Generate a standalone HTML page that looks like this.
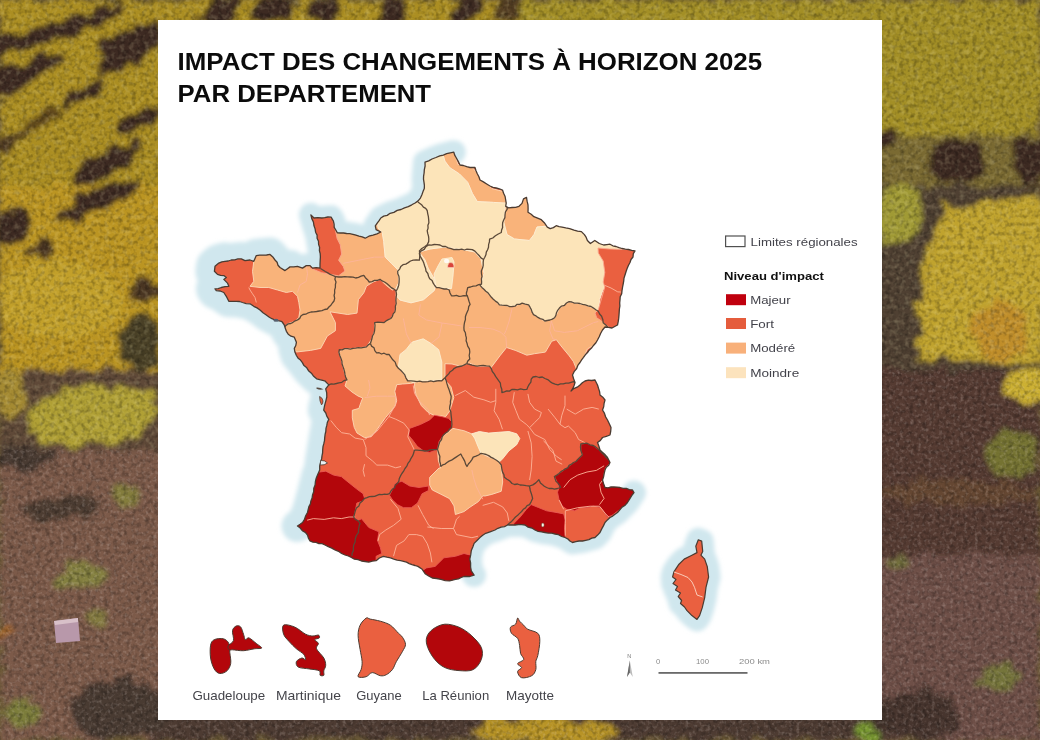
<!DOCTYPE html>
<html><head><meta charset="utf-8"><title>Impact des changements à horizon 2025</title>
<style>
html,body{margin:0;padding:0;}
body{width:1040px;height:740px;overflow:hidden;position:relative;background:#6b5a35;font-family:"Liberation Sans",sans-serif;}
.bg{position:absolute;left:0;top:0;}
.card{position:absolute;left:158px;top:20px;width:724px;height:700px;background:#fff;}
.map{position:absolute;left:0;top:0;}
h1{position:absolute;left:177px;top:44px;margin:0;font-size:24px;line-height:33px;font-weight:700;color:#111;letter-spacing:0.2px;white-space:nowrap;}
.lbox{position:absolute;left:725px;top:235.5px;width:18px;height:9.5px;border:1.2px solid #555;}
.sw{position:absolute;left:726px;width:20px;height:11px;}
.lt{position:absolute;font-size:11.5px;line-height:14px;color:#444;white-space:nowrap;}
.lh{position:absolute;font-size:11.5px;line-height:14px;color:#111;font-weight:700;white-space:nowrap;}
.ol span{position:absolute;top:688px;font-size:11.3px;line-height:13px;color:#444;white-space:nowrap;}
</style></head><body>
<svg class="bg" width="1040" height="740" viewBox="0 0 1040 740">
<defs>
<filter id="b3" x="-5%" y="-5%" width="110%" height="110%">
<feTurbulence type="fractalNoise" baseFrequency="0.06" numOctaves="3" seed="4" result="t"/>
<feDisplacementMap in="SourceGraphic" in2="t" scale="22" xChannelSelector="R" yChannelSelector="G" result="d"/>
<feGaussianBlur in="d" stdDeviation="2.5"/></filter>
<filter id="nz" x="0" y="0" width="100%" height="100%">
<feTurbulence type="fractalNoise" baseFrequency="0.22" numOctaves="2" seed="7"/>
<feColorMatrix type="matrix" values="0 0 0 0 0  0 0 0 0 0  0 0 0 0 0  0 0 0 -2.2 1.25"/>
</filter>
<clipPath id="cf"><rect x="0" y="0" width="1040" height="370"/><rect x="0" y="370" width="170" height="80"/></clipPath>
<clipPath id="cs"><rect x="0" y="450" width="170" height="290"/><rect x="860" y="370" width="180" height="370"/><rect x="150" y="700" width="740" height="40"/></clipPath>
<filter id="nz3" x="0" y="0" width="100%" height="100%">
<feTurbulence type="fractalNoise" baseFrequency="0.28" numOctaves="2" seed="21"/>
<feColorMatrix type="matrix" values="0 0 0 0 0.85  0 0 0 0 0.74  0 0 0 0 0.70  0 0 0 -2.6 1.35"/>
</filter>
<filter id="nz2" x="0" y="0" width="100%" height="100%">
<feTurbulence type="fractalNoise" baseFrequency="0.2" numOctaves="2" seed="11"/>
<feColorMatrix type="matrix" values="0 0 0 0 1  0 0 0 0 0.92  0 0 0 0 0.55  0 0 0 -2.2 1.2"/>
</filter>
</defs>
<g filter="url(#b3)">
<rect x="0" y="0" width="520" height="185" fill="#ab8e20" opacity="1"/><rect x="0" y="185" width="170" height="185" fill="#bb9524" opacity="1"/><rect x="0" y="370" width="170" height="80" fill="#5e4a38" opacity="1"/><rect x="0" y="450" width="170" height="290" fill="#7c5a4a" opacity="1"/><rect x="520" y="0" width="520" height="135" fill="#a38f26" opacity="1"/><rect x="860" y="135" width="180" height="50" fill="#7a6a30" opacity="1"/><rect x="860" y="185" width="180" height="185" fill="#4f3f33" opacity="1"/><rect x="860" y="370" width="180" height="185" fill="#553b31" opacity="1"/><rect x="860" y="555" width="180" height="185" fill="#6e5046" opacity="1"/><rect x="150" y="700" width="740" height="40" fill="#4e3a32" opacity="1"/>
<path d="M-5,40 L30,30 L60,22 L90,13 L120,2 L128,11 L95,26 L60,37 L30,46 L-5,56 Z" fill="#3d2a20"/><path d="M-5,70 L30,60 L62,50 L68,62 L36,80 L-5,98 Z" fill="#3d2a20"/><path d="M98,42 L140,24 L165,18 L165,40 L140,60 L108,76 L98,66 Z" fill="#3d2a20"/><ellipse cx="85" cy="92" rx="27" ry="8" transform="rotate(-28 85 92)" fill="#3d2a20" opacity="1"/><ellipse cx="140" cy="119" rx="27" ry="8" transform="rotate(-28 140 119)" fill="#3d2a20" opacity="1"/><ellipse cx="108" cy="163" rx="40" ry="13" transform="rotate(-28 108 163)" fill="#3d2a20" opacity="1"/><ellipse cx="10" cy="142" rx="20" ry="6" transform="rotate(-28 10 142)" fill="#3d2a20" opacity="0.8"/><ellipse cx="40" cy="120" rx="22" ry="5" transform="rotate(-28 40 120)" fill="#3d2a20" opacity="0.7"/><ellipse cx="97" cy="200" rx="46" ry="11" transform="rotate(-22 97 200)" fill="#3d2a20" opacity="1"/><ellipse cx="12" cy="228" rx="18" ry="17" transform="rotate(-25 12 228)" fill="#3d2a20" opacity="1"/><ellipse cx="42" cy="250" rx="13" ry="9" transform="rotate(0 42 250)" fill="#3d2a20" opacity="0.9"/><ellipse cx="145" cy="291" rx="18" ry="10" transform="rotate(-10 145 291)" fill="#3d2a20" opacity="0.9"/><ellipse cx="142" cy="342" rx="22" ry="28" transform="rotate(0 142 342)" fill="#4a4028" opacity="1"/><ellipse cx="60" cy="300" rx="60" ry="40" transform="rotate(0 60 300)" fill="#c4a22c" opacity="0.8"/><ellipse cx="93" cy="416" rx="66" ry="30" transform="rotate(-5 93 416)" fill="#b0a034" opacity="1"/><ellipse cx="12" cy="392" rx="18" ry="24" transform="rotate(0 12 392)" fill="#a48a30" opacity="1"/><ellipse cx="25" cy="458" rx="30" ry="12" transform="rotate(0 25 458)" fill="#4a3a30" opacity="1"/><ellipse cx="62" cy="508" rx="40" ry="12" transform="rotate(-5 62 508)" fill="#4e3c32" opacity="1"/><ellipse cx="118" cy="710" rx="50" ry="30" transform="rotate(0 118 710)" fill="#4a3a32" opacity="1"/><ellipse cx="80" cy="577" rx="24" ry="13" transform="rotate(0 80 577)" fill="#8a9a3a" opacity="0.6"/><ellipse cx="97" cy="618" rx="13" ry="9" transform="rotate(0 97 618)" fill="#8a9a38" opacity="0.5"/><ellipse cx="20" cy="713" rx="20" ry="14" transform="rotate(0 20 713)" fill="#7a9a30" opacity="0.55"/><ellipse cx="127" cy="496" rx="13" ry="12" transform="rotate(0 127 496)" fill="#8a9a35" opacity="0.55"/><ellipse cx="6" cy="633" rx="8" ry="7" transform="rotate(0 6 633)" fill="#b06a20" opacity="0.8"/><ellipse cx="958" cy="162" rx="28" ry="22" transform="rotate(0 958 162)" fill="#3d2a20" opacity="1"/><ellipse cx="1030" cy="162" rx="20" ry="22" transform="rotate(0 1030 162)" fill="#3d2a20" opacity="1"/><ellipse cx="887" cy="140" rx="10" ry="10" transform="rotate(0 887 140)" fill="#3d2a20" opacity="1"/><ellipse cx="899" cy="215" rx="22" ry="32" transform="rotate(0 899 215)" fill="#a09a35" opacity="1"/><path d="M942,205 L1045,195 L1045,362 L918,362 L918,300 Z" fill="#c0a32e"/><ellipse cx="1000" cy="330" rx="30" ry="30" transform="rotate(0 1000 330)" fill="#c07a2a" opacity="0.5"/><ellipse cx="1028" cy="385" rx="22" ry="16" transform="rotate(0 1028 385)" fill="#ccb032" opacity="1"/><ellipse cx="1012" cy="455" rx="26" ry="24" transform="rotate(0 1012 455)" fill="#8a9a30" opacity="0.6"/><ellipse cx="960" cy="492" rx="80" ry="12" transform="rotate(0 960 492)" fill="#7a5638" opacity="0.45"/><ellipse cx="997" cy="678" rx="20" ry="13" transform="rotate(0 997 678)" fill="#7a9a30" opacity="0.5"/><ellipse cx="900" cy="562" rx="15" ry="7" transform="rotate(0 900 562)" fill="#7a9a30" opacity="0.45"/><ellipse cx="920" cy="715" rx="45" ry="25" transform="rotate(0 920 715)" fill="#3c2e28" opacity="0.8"/><path d="M195,22 L215,-2 L245,-2 L232,22 Z" fill="#3d2a20"/><path d="M250,22 L262,-2 L292,-2 L283,22 Z" fill="#3d2a20"/><path d="M306,22 L316,-2 L340,-2 L333,22 Z" fill="#3d2a20"/><path d="M374,22 L384,-2 L410,-2 L404,22 Z" fill="#3d2a20"/><path d="M448,22 L456,-2 L480,-2 L476,22 Z" fill="#3d2a20"/><path d="M496,22 L502,-2 L522,-2 L520,22 Z" fill="#3d2a20" opacity="0.8"/><ellipse cx="545" cy="732" rx="75" ry="14" transform="rotate(0 545 732)" fill="#b89428" opacity="1"/><ellipse cx="867" cy="732" rx="14" ry="10" transform="rotate(0 867 732)" fill="#7a9a30" opacity="1"/>
</g>
<rect x="0" y="0" width="1040" height="740" filter="url(#nz)" opacity="0.3"/>
<rect x="0" y="0" width="1040" height="740" filter="url(#nz2)" opacity="0.22" clip-path="url(#cf)"/>
<rect x="0" y="0" width="1040" height="740" filter="url(#nz3)" opacity="0.22" clip-path="url(#cs)"/>
<path d="M54,621 L78,618 L80,641 L56,643 Z" fill="#b898aa"/>
<path d="M54,621 L78,618 L78,622 L55,625 Z" fill="#d8c0c8"/>
</svg>
<div class="card"></div>

<svg class="map" width="1040" height="740" viewBox="0 0 1040 740">
<defs>
<clipPath id="fr"><path d="M215.0,266.3 L218.8,263.1 L221.8,261.8 L225.0,261.3 L228.2,261.0 L231.3,260.0 L234.7,259.9 L237.9,258.9 L241.3,258.8 L245.0,260.6 L250.0,260.0 L253.8,261.3 L255.0,258.4 L256.3,255.6 L259.7,255.2 L263.2,255.2 L266.6,255.0 L270.0,254.4 L272.8,256.9 L275.0,260.0 L277.1,262.2 L278.0,265.2 L280.0,267.5 L285.0,270.6 L287.5,268.7 L290.0,266.9 L293.8,266.9 L297.5,266.3 L302.5,268.1 L306.3,265.6 L310.0,265.6 L312.5,268.1 L316.2,267.6 L320.0,268.1 L320.0,264.0 L320.2,260.0 L320.4,256.9 L320.2,253.7 L319.4,250.7 L319.6,247.4 L318.6,244.4 L318.5,241.2 L317.1,238.3 L317.1,235.1 L315.6,232.2 L315.1,228.9 L314.0,225.8 L313.4,222.0 L311.8,218.6 L310.9,214.9 L314.0,218.0 L317.9,217.7 L321.7,218.0 L324.8,217.6 L327.9,217.0 L331.1,217.2 L333.4,221.1 L334.1,224.2 L334.2,227.3 L335.8,230.0 L337.3,232.8 L340.4,233.0 L343.5,233.0 L346.6,233.5 L349.8,233.7 L352.9,234.3 L355.9,235.1 L359.0,236.1 L362.2,236.9 L365.2,238.2 L368.9,236.2 L373.0,235.1 L377.0,233.9 L380.8,232.0 L376.1,229.7 L375.3,225.8 L377.2,223.2 L379.1,220.7 L380.8,218.0 L383.7,216.1 L387.2,215.4 L390.1,213.3 L393.9,212.4 L397.2,210.4 L401.0,209.5 L404.5,207.8 L408.3,206.6 L411.8,204.8 L415.1,203.0 L418.1,200.9 L420.4,198.1 L421.9,194.7 L423.0,191.6 L424.3,188.5 L424.4,185.4 L424.0,182.3 L423.5,179.2 L423.6,176.1 L424.1,173.0 L424.3,169.9 L425.1,166.0 L425.0,162.1 L428.7,160.9 L432.0,159.0 L435.9,157.5 L439.8,155.9 L443.3,155.1 L446.7,153.6 L450.2,152.9 L453.8,152.2 L454.7,155.1 L456.2,157.8 L458.2,161.4 L460.0,165.0 L463.4,165.5 L466.7,166.7 L470.0,167.5 L475.0,167.5 L476.0,170.7 L477.3,173.8 L478.9,176.8 L480.0,180.0 L483.4,181.9 L486.7,184.0 L490.0,186.0 L493.0,187.3 L496.2,188.0 L499.4,188.9 L502.5,190.0 L503.6,193.3 L505.1,196.5 L505.7,200.0 L506.2,203.2 L505.7,206.3 L508.6,207.8 L512.1,207.5 L515.6,207.3 L519.0,206.3 L522.0,203.4 L523.5,198.9 L526.5,197.4 L527.1,201.2 L528.0,204.9 L528.1,208.6 L528.0,212.3 L531.2,214.2 L533.9,216.7 L537.6,218.2 L541.3,219.7 L544.3,222.7 L547.3,227.1 L550.2,228.6 L553.4,227.6 L556.2,225.7 L559.1,226.7 L562.1,227.1 L565.8,227.9 L569.6,228.6 L574.0,230.1 L577.6,231.2 L581.4,231.6 L584.4,234.6 L586.2,237.4 L587.4,240.5 L590.4,243.5 L594.8,240.5 L599.3,243.5 L603.7,245.0 L606.9,244.6 L610.0,244.2 L612.8,245.8 L616.0,246.5 L619.0,247.6 L622.0,248.5 L625.3,249.1 L628.5,249.5 L631.7,250.4 L635.0,251.0 L633.3,253.7 L633.0,257.0 L631.0,259.5 L630.0,262.5 L628.4,265.5 L627.1,268.6 L626.0,271.8 L625.0,275.0 L624.0,278.1 L623.7,281.2 L623.1,284.4 L622.5,287.5 L622.0,290.6 L621.7,293.8 L620.2,296.8 L620.0,300.0 L619.7,303.0 L619.9,306.0 L619.4,309.0 L619.2,312.0 L619.0,315.0 L618.7,318.4 L618.2,321.7 L617.5,325.0 L614.7,326.5 L612.0,328.0 L608.5,327.4 L605.0,327.0 L602.5,330.0 L600.7,333.3 L599.2,336.7 L597.5,340.0 L595.9,342.8 L593.7,345.2 L591.8,347.7 L589.4,349.9 L587.5,352.5 L585.3,354.8 L583.5,357.3 L581.6,359.8 L580.0,362.5 L577.8,365.4 L576.5,368.9 L574.1,371.7 L572.5,375.0 L573.6,378.8 L575.0,382.5 L574.1,385.5 L572.8,388.4 L571.0,391.0 L573.7,388.6 L577.2,387.2 L580.0,385.0 L582.3,382.8 L585.0,381.0 L588.3,380.2 L591.7,380.5 L595.0,380.0 L597.5,385.0 L598.5,388.3 L599.6,391.6 L600.0,395.0 L602.8,397.2 L605.0,400.0 L604.1,403.3 L603.7,406.8 L602.5,410.0 L604.4,413.2 L605.6,416.8 L607.5,420.0 L609.3,423.7 L611.0,427.5 L610.7,431.3 L610.0,435.0 L606.3,436.3 L602.5,437.5 L600.4,440.4 L597.5,442.5 L598.9,446.2 L600.0,450.0 L602.6,452.4 L605.2,454.8 L607.5,457.5 L610.0,462.5 L608.7,465.2 L606.3,467.3 L605.0,470.0 L604.2,473.3 L603.6,476.7 L602.5,480.0 L603.6,483.8 L605.0,487.5 L608.0,487.8 L611.0,487.0 L614.0,487.0 L617.0,487.1 L620.0,487.5 L623.1,488.4 L626.3,488.4 L629.3,489.6 L632.5,490.0 L634.0,492.5 L631.7,495.7 L629.6,499.1 L627.5,502.5 L625.2,505.2 L622.1,507.1 L619.8,509.8 L617.5,512.5 L615.0,514.2 L612.7,516.1 L610.0,517.5 L607.4,519.9 L605.0,522.5 L603.4,525.9 L601.6,529.1 L600.0,532.5 L597.6,535.1 L595.0,537.5 L591.8,538.2 L588.9,539.7 L585.7,540.3 L582.5,541.0 L579.1,541.0 L575.8,541.6 L572.5,542.5 L569.9,541.0 L567.7,538.8 L565.0,537.5 L561.6,536.5 L558.5,534.7 L555.0,534.0 L551.7,533.2 L548.3,533.1 L545.0,532.5 L541.6,531.9 L538.2,531.4 L535.0,530.0 L531.9,528.0 L528.1,527.1 L525.0,525.0 L521.7,524.6 L518.3,524.5 L515.0,525.0 L511.2,524.9 L507.5,525.0 L504.5,526.6 L501.1,527.1 L497.9,528.3 L495.0,530.0 L490.0,531.8 L485.7,533.3 L482.7,535.3 L479.9,537.6 L477.0,540.5 L474.1,543.4 L472.8,547.0 L471.3,550.6 L470.7,554.9 L469.8,559.2 L470.6,563.0 L470.6,567.0 L471.3,570.8 L474.1,575.1 L469.8,576.5 L464.0,576.5 L461.2,577.5 L458.4,578.8 L455.4,579.4 L449.6,580.9 L445.2,580.6 L441.0,579.4 L436.7,578.5 L432.3,578.0 L428.6,576.0 L425.1,573.7 L422.2,569.3 L417.9,566.4 L415.0,565.5 L412.0,564.7 L409.2,563.6 L406.5,562.2 L403.6,561.3 L400.6,560.7 L397.1,560.2 L393.8,559.1 L390.5,557.8 L386.9,557.2 L383.3,556.3 L379.4,558.0 L376.1,560.7 L372.4,561.1 L368.8,562.1 L365.2,561.5 L361.5,561.0 L358.0,559.7 L354.4,559.2 L351.4,557.5 L348.3,556.0 L345.0,555.0 L341.6,553.5 L338.5,551.3 L335.0,550.0 L331.8,548.1 L328.3,546.7 L325.0,545.0 L322.1,543.7 L318.9,543.7 L316.1,542.4 L312.9,542.2 L310.0,541.0 L308.4,538.1 L307.5,535.0 L305.3,532.4 L302.3,530.7 L300.2,528.0 L297.5,526.0 L300.1,524.3 L302.5,522.5 L304.5,519.3 L305.7,515.8 L307.5,512.5 L308.2,509.5 L308.9,506.6 L310.4,503.9 L310.9,500.9 L312.1,498.1 L312.5,495.0 L313.7,491.8 L313.8,488.2 L315.1,485.0 L315.4,481.6 L316.2,478.2 L317.5,475.0 L319.7,470.0 L319.7,465.9 L320.7,461.9 L321.6,458.9 L322.0,455.9 L322.6,452.8 L322.7,449.7 L323.0,446.6 L323.8,443.7 L324.5,440.7 L324.7,437.6 L325.1,434.5 L325.8,431.5 L326.0,428.4 L326.8,425.4 L327.4,422.2 L328.8,419.3 L326.9,416.4 L325.8,413.0 L323.7,410.2 L324.7,405.1 L325.8,401.1 L326.8,397.0 L326.7,392.9 L325.7,388.9 L328.8,384.9 L324.7,380.8 L320.6,379.8 L316.6,378.8 L313.7,376.3 L311.4,373.2 L308.5,370.7 L306.8,367.8 L304.0,365.6 L302.4,362.6 L300.5,360.1 L298.1,358.2 L296.4,355.5 L294.9,352.1 L294.3,348.4 L295.8,345.5 L296.4,342.3 L294.3,337.2 L291.0,336.2 L288.2,334.2 L286.4,331.3 L285.2,328.1 L284.2,324.8 L282.2,322.0 L281.3,321.3 L278.1,320.7 L275.0,320.0 L271.9,318.7 L269.0,317.0 L266.3,315.0 L263.0,312.7 L260.0,310.0 L257.0,307.9 L253.8,306.3 L250.0,303.8 L246.2,303.6 L242.5,302.5 L239.5,301.5 L236.3,301.3 L232.6,301.4 L228.8,301.3 L226.3,296.3 L223.8,292.5 L220.2,291.0 L216.3,290.6 L215.0,288.8 L218.2,288.6 L221.3,287.5 L225.0,286.7 L228.8,286.3 L227.5,283.1 L223.8,279.4 L226.3,277.5 L223.8,275.6 L220.6,275.3 L217.5,274.4 L214.4,271.3 Z"/></clipPath>
<filter id="bl" x="-10%" y="-10%" width="120%" height="120%"><feGaussianBlur stdDeviation="2"/></filter>
</defs>
<g filter="url(#bl)" fill="none" stroke="#d0e7ee" stroke-width="24" stroke-linejoin="round" stroke-linecap="round">
<path d="M215.0,266.3 L218.8,263.1 L225.0,261.3 L231.3,260.0 L241.3,258.8 L245.0,260.6 L250.0,260.0 L253.8,261.3 L256.3,255.6 L270.0,254.4 L275.0,260.0 L280.0,267.5 L285.0,270.6 L290.0,266.9 L297.5,266.3 L302.5,268.1 L306.3,265.6 L310.0,265.6 L312.5,268.1 L320.0,268.1 L320.2,260.0 L320.2,253.7 L318.6,244.4 L317.1,235.1 L314.0,225.8 L310.9,214.9 L314.0,218.0 L321.7,218.0 L331.1,217.2 L333.4,221.1 L334.2,227.3 L337.3,232.8 L346.6,233.5 L355.9,235.1 L365.2,238.2 L373.0,235.1 L380.8,232.0 L376.1,229.7 L375.3,225.8 L380.8,218.0 L390.1,213.3 L401.0,209.5 L411.8,204.8 L418.1,200.9 L421.9,194.7 L424.3,188.5 L423.5,179.2 L424.3,169.9 L425.0,162.1 L432.0,159.0 L439.8,155.9 L453.8,152.2"/>
<path d="M215.0,266.3 L218.8,263.1 L225.0,261.3 L231.3,260.0 L241.3,258.8 L245.0,260.6 L250.0,260.0 L253.8,261.3 L256.3,255.6 L270.0,254.4 L275.0,260.0 L280.0,267.5 L285.0,270.6 L290.0,266.9" stroke-width="34"/>
<path d="M226.3,296.3 L223.8,292.5 L216.3,290.6 L215.0,288.8 L221.3,287.5 L228.8,286.3 L227.5,283.1 L223.8,279.4 L226.3,277.5 L223.8,275.6 L217.5,274.4 L214.4,271.3 L215.0,266.3 L218.8,263.1 L225.0,261.3" stroke-width="38"/>
<path d="M297.5,526.0 L302.5,522.5 L307.5,512.5 L312.5,495.0 L317.5,475.0 L319.7,470.0 L320.7,461.9 L322.7,449.7 L324.7,437.6 L326.8,425.4 L328.8,419.3 L323.7,410.2 L324.7,405.1 L326.8,397.0 L325.7,388.9 L328.8,384.9 L324.7,380.8 L316.6,378.8 L308.5,370.7 L302.4,362.6 L296.4,355.5 L294.3,348.4 L296.4,342.3 L294.3,337.2 L288.2,334.2 L285.2,328.1 L282.2,322.0 L281.3,321.3 L275.0,320.0 L266.3,315.0 L260.0,310.0 L253.8,306.3 L250.0,303.8 L242.5,302.5 L236.3,301.3 L228.8,301.3 L226.3,296.3 L223.8,292.5 L216.3,290.6 L215.0,288.8 L221.3,287.5 L228.8,286.3 L227.5,283.1 L223.8,279.4 L226.3,277.5 L223.8,275.6 L217.5,274.4 L214.4,271.3 L215.0,266.3" stroke-width="32"/>
<path d="M634.0,492.5 L627.5,502.5 L617.5,512.5 L610.0,517.5 L605.0,522.5 L600.0,532.5 L595.0,537.5 L582.5,541.0 L572.5,542.5 L565.0,537.5 L555.0,534.0 L545.0,532.5 L535.0,530.0 L525.0,525.0 L515.0,525.0 L507.5,525.0 L495.0,530.0 L490.0,531.8 L485.7,533.3 L479.9,537.6 L474.1,543.4 L471.3,550.6 L469.8,559.2 L471.3,570.8 L474.1,575.1"/>
<path d="M698.3,539.8 L701.7,541.1 L702.7,551.4 L700.9,555.2 L704.7,559.1 L707.3,566.8 L708.6,577.0 L706.0,587.3 L704.7,597.6 L702.2,607.9 L699.6,615.6 L697.0,619.4 L691.9,615.6 L686.8,610.4 L684.5,607.0 L680.5,603.5 L681.6,600.5 L678.2,596.5 L680.5,593.0 L675.5,590.0 L677.5,586.5 L673.0,583.5 L676.0,579.5 L672.6,577.0 L673.9,571.9 L679.0,564.2 L684.2,559.1 L691.9,555.2 L697.0,552.6 L695.8,546.2 Z" fill="#d2e9ef"/>
</g>
<g clip-path="url(#fr)">
<path d="M215.0,266.3 L218.8,263.1 L221.8,261.8 L225.0,261.3 L228.2,261.0 L231.3,260.0 L234.7,259.9 L237.9,258.9 L241.3,258.8 L245.0,260.6 L250.0,260.0 L253.8,261.3 L255.0,258.4 L256.3,255.6 L259.7,255.2 L263.2,255.2 L266.6,255.0 L270.0,254.4 L272.8,256.9 L275.0,260.0 L277.1,262.2 L278.0,265.2 L280.0,267.5 L285.0,270.6 L287.5,268.7 L290.0,266.9 L293.8,266.9 L297.5,266.3 L302.5,268.1 L306.3,265.6 L310.0,265.6 L312.5,268.1 L316.2,267.6 L320.0,268.1 L320.0,264.0 L320.2,260.0 L320.4,256.9 L320.2,253.7 L319.4,250.7 L319.6,247.4 L318.6,244.4 L318.5,241.2 L317.1,238.3 L317.1,235.1 L315.6,232.2 L315.1,228.9 L314.0,225.8 L313.4,222.0 L311.8,218.6 L310.9,214.9 L314.0,218.0 L317.9,217.7 L321.7,218.0 L324.8,217.6 L327.9,217.0 L331.1,217.2 L333.4,221.1 L334.1,224.2 L334.2,227.3 L335.8,230.0 L337.3,232.8 L340.4,233.0 L343.5,233.0 L346.6,233.5 L349.8,233.7 L352.9,234.3 L355.9,235.1 L359.0,236.1 L362.2,236.9 L365.2,238.2 L368.9,236.2 L373.0,235.1 L377.0,233.9 L380.8,232.0 L376.1,229.7 L375.3,225.8 L377.2,223.2 L379.1,220.7 L380.8,218.0 L383.7,216.1 L387.2,215.4 L390.1,213.3 L393.9,212.4 L397.2,210.4 L401.0,209.5 L404.5,207.8 L408.3,206.6 L411.8,204.8 L415.1,203.0 L418.1,200.9 L420.4,198.1 L421.9,194.7 L423.0,191.6 L424.3,188.5 L424.4,185.4 L424.0,182.3 L423.5,179.2 L423.6,176.1 L424.1,173.0 L424.3,169.9 L425.1,166.0 L425.0,162.1 L428.7,160.9 L432.0,159.0 L435.9,157.5 L439.8,155.9 L443.3,155.1 L446.7,153.6 L450.2,152.9 L453.8,152.2 L454.7,155.1 L456.2,157.8 L458.2,161.4 L460.0,165.0 L463.4,165.5 L466.7,166.7 L470.0,167.5 L475.0,167.5 L476.0,170.7 L477.3,173.8 L478.9,176.8 L480.0,180.0 L483.4,181.9 L486.7,184.0 L490.0,186.0 L493.0,187.3 L496.2,188.0 L499.4,188.9 L502.5,190.0 L503.6,193.3 L505.1,196.5 L505.7,200.0 L506.2,203.2 L505.7,206.3 L508.6,207.8 L512.1,207.5 L515.6,207.3 L519.0,206.3 L522.0,203.4 L523.5,198.9 L526.5,197.4 L527.1,201.2 L528.0,204.9 L528.1,208.6 L528.0,212.3 L531.2,214.2 L533.9,216.7 L537.6,218.2 L541.3,219.7 L544.3,222.7 L547.3,227.1 L550.2,228.6 L553.4,227.6 L556.2,225.7 L559.1,226.7 L562.1,227.1 L565.8,227.9 L569.6,228.6 L574.0,230.1 L577.6,231.2 L581.4,231.6 L584.4,234.6 L586.2,237.4 L587.4,240.5 L590.4,243.5 L594.8,240.5 L599.3,243.5 L603.7,245.0 L606.9,244.6 L610.0,244.2 L612.8,245.8 L616.0,246.5 L619.0,247.6 L622.0,248.5 L625.3,249.1 L628.5,249.5 L631.7,250.4 L635.0,251.0 L633.3,253.7 L633.0,257.0 L631.0,259.5 L630.0,262.5 L628.4,265.5 L627.1,268.6 L626.0,271.8 L625.0,275.0 L624.0,278.1 L623.7,281.2 L623.1,284.4 L622.5,287.5 L622.0,290.6 L621.7,293.8 L620.2,296.8 L620.0,300.0 L619.7,303.0 L619.9,306.0 L619.4,309.0 L619.2,312.0 L619.0,315.0 L618.7,318.4 L618.2,321.7 L617.5,325.0 L614.7,326.5 L612.0,328.0 L608.5,327.4 L605.0,327.0 L602.5,330.0 L600.7,333.3 L599.2,336.7 L597.5,340.0 L595.9,342.8 L593.7,345.2 L591.8,347.7 L589.4,349.9 L587.5,352.5 L585.3,354.8 L583.5,357.3 L581.6,359.8 L580.0,362.5 L577.8,365.4 L576.5,368.9 L574.1,371.7 L572.5,375.0 L573.6,378.8 L575.0,382.5 L574.1,385.5 L572.8,388.4 L571.0,391.0 L573.7,388.6 L577.2,387.2 L580.0,385.0 L582.3,382.8 L585.0,381.0 L588.3,380.2 L591.7,380.5 L595.0,380.0 L597.5,385.0 L598.5,388.3 L599.6,391.6 L600.0,395.0 L602.8,397.2 L605.0,400.0 L604.1,403.3 L603.7,406.8 L602.5,410.0 L604.4,413.2 L605.6,416.8 L607.5,420.0 L609.3,423.7 L611.0,427.5 L610.7,431.3 L610.0,435.0 L606.3,436.3 L602.5,437.5 L600.4,440.4 L597.5,442.5 L598.9,446.2 L600.0,450.0 L602.6,452.4 L605.2,454.8 L607.5,457.5 L610.0,462.5 L608.7,465.2 L606.3,467.3 L605.0,470.0 L604.2,473.3 L603.6,476.7 L602.5,480.0 L603.6,483.8 L605.0,487.5 L608.0,487.8 L611.0,487.0 L614.0,487.0 L617.0,487.1 L620.0,487.5 L623.1,488.4 L626.3,488.4 L629.3,489.6 L632.5,490.0 L634.0,492.5 L631.7,495.7 L629.6,499.1 L627.5,502.5 L625.2,505.2 L622.1,507.1 L619.8,509.8 L617.5,512.5 L615.0,514.2 L612.7,516.1 L610.0,517.5 L607.4,519.9 L605.0,522.5 L603.4,525.9 L601.6,529.1 L600.0,532.5 L597.6,535.1 L595.0,537.5 L591.8,538.2 L588.9,539.7 L585.7,540.3 L582.5,541.0 L579.1,541.0 L575.8,541.6 L572.5,542.5 L569.9,541.0 L567.7,538.8 L565.0,537.5 L561.6,536.5 L558.5,534.7 L555.0,534.0 L551.7,533.2 L548.3,533.1 L545.0,532.5 L541.6,531.9 L538.2,531.4 L535.0,530.0 L531.9,528.0 L528.1,527.1 L525.0,525.0 L521.7,524.6 L518.3,524.5 L515.0,525.0 L511.2,524.9 L507.5,525.0 L504.5,526.6 L501.1,527.1 L497.9,528.3 L495.0,530.0 L490.0,531.8 L485.7,533.3 L482.7,535.3 L479.9,537.6 L477.0,540.5 L474.1,543.4 L472.8,547.0 L471.3,550.6 L470.7,554.9 L469.8,559.2 L470.6,563.0 L470.6,567.0 L471.3,570.8 L474.1,575.1 L469.8,576.5 L464.0,576.5 L461.2,577.5 L458.4,578.8 L455.4,579.4 L449.6,580.9 L445.2,580.6 L441.0,579.4 L436.7,578.5 L432.3,578.0 L428.6,576.0 L425.1,573.7 L422.2,569.3 L417.9,566.4 L415.0,565.5 L412.0,564.7 L409.2,563.6 L406.5,562.2 L403.6,561.3 L400.6,560.7 L397.1,560.2 L393.8,559.1 L390.5,557.8 L386.9,557.2 L383.3,556.3 L379.4,558.0 L376.1,560.7 L372.4,561.1 L368.8,562.1 L365.2,561.5 L361.5,561.0 L358.0,559.7 L354.4,559.2 L351.4,557.5 L348.3,556.0 L345.0,555.0 L341.6,553.5 L338.5,551.3 L335.0,550.0 L331.8,548.1 L328.3,546.7 L325.0,545.0 L322.1,543.7 L318.9,543.7 L316.1,542.4 L312.9,542.2 L310.0,541.0 L308.4,538.1 L307.5,535.0 L305.3,532.4 L302.3,530.7 L300.2,528.0 L297.5,526.0 L300.1,524.3 L302.5,522.5 L304.5,519.3 L305.7,515.8 L307.5,512.5 L308.2,509.5 L308.9,506.6 L310.4,503.9 L310.9,500.9 L312.1,498.1 L312.5,495.0 L313.7,491.8 L313.8,488.2 L315.1,485.0 L315.4,481.6 L316.2,478.2 L317.5,475.0 L319.7,470.0 L319.7,465.9 L320.7,461.9 L321.6,458.9 L322.0,455.9 L322.6,452.8 L322.7,449.7 L323.0,446.6 L323.8,443.7 L324.5,440.7 L324.7,437.6 L325.1,434.5 L325.8,431.5 L326.0,428.4 L326.8,425.4 L327.4,422.2 L328.8,419.3 L326.9,416.4 L325.8,413.0 L323.7,410.2 L324.7,405.1 L325.8,401.1 L326.8,397.0 L326.7,392.9 L325.7,388.9 L328.8,384.9 L324.7,380.8 L320.6,379.8 L316.6,378.8 L313.7,376.3 L311.4,373.2 L308.5,370.7 L306.8,367.8 L304.0,365.6 L302.4,362.6 L300.5,360.1 L298.1,358.2 L296.4,355.5 L294.9,352.1 L294.3,348.4 L295.8,345.5 L296.4,342.3 L294.3,337.2 L291.0,336.2 L288.2,334.2 L286.4,331.3 L285.2,328.1 L284.2,324.8 L282.2,322.0 L281.3,321.3 L278.1,320.7 L275.0,320.0 L271.9,318.7 L269.0,317.0 L266.3,315.0 L263.0,312.7 L260.0,310.0 L257.0,307.9 L253.8,306.3 L250.0,303.8 L246.2,303.6 L242.5,302.5 L239.5,301.5 L236.3,301.3 L232.6,301.4 L228.8,301.3 L226.3,296.3 L223.8,292.5 L220.2,291.0 L216.3,290.6 L215.0,288.8 L218.2,288.6 L221.3,287.5 L225.0,286.7 L228.8,286.3 L227.5,283.1 L223.8,279.4 L226.3,277.5 L223.8,275.6 L220.6,275.3 L217.5,274.4 L214.4,271.3 Z" fill="#ea6040"/>
<path d="M253.8,240.0 L253.8,261.3 L252.5,271.3 L253.8,281.3 L250.0,286.3 L260.0,287.5 L268.8,287.5 L277.5,290.0 L286.3,292.5 L292.5,291.3 L297.5,296.3 L298.8,302.5 L300.0,310.0 L298.8,317.5 L295.0,321.3 L287.5,323.8 L280.0,330.0 L296.4,352.0 L310.5,350.4 L320.7,348.4 L327.3,336.1 L335.4,330.7 L335.4,322.6 L330.0,311.8 L347.6,314.5 L357.0,313.1 L358.4,299.6 L363.8,292.8 L366.5,286.1 L373.2,282.0 L380.0,279.3 L385.4,284.7 L392.2,290.1 L396.1,288.2 L399.2,282.0 L397.7,269.6 L391.5,263.4 L385.2,257.1 L383.7,241.6 L382.1,225.0 L340.0,225.0 Z" fill="#f9b37a" stroke="#fdd9b8" stroke-width="0.9" stroke-linejoin="round"/>
<path d="M441.6,150.0 L453.8,148.0 L457.8,164.3 L472.4,167.6 L483.8,180.5 L491.9,188.6 L504.9,191.9 L506.5,203.2 L493.5,202.4 L477.3,201.6 L472.4,193.5 L467.6,182.2 L459.5,174.0 L449.7,167.6 L444.9,161.1 Z" fill="#f9b37a" stroke="#fdd9b8" stroke-width="0.9" stroke-linejoin="round"/>
<path d="M505.0,207.5 L520.0,203.8 L525.0,196.0 L530.0,205.0 L548.0,226.0 L537.0,227.0 L534.0,234.6 L529.4,240.5 L514.6,239.0 L507.0,234.6 L503.8,222.5 Z" fill="#f9b37a" stroke="#fdd9b8" stroke-width="0.9" stroke-linejoin="round"/>
<path d="M419.0,252.0 L430.0,249.0 L445.0,247.0 L460.0,249.0 L475.0,252.0 L481.0,259.0 L484.0,273.3 L481.0,284.2 L480.0,285.4 L489.7,295.1 L499.4,304.8 L512.4,306.5 L522.1,303.2 L528.6,304.8 L533.5,314.6 L544.8,321.0 L554.6,317.8 L559.4,308.1 L569.1,301.6 L577.2,303.2 L585.3,304.8 L593.5,308.1 L598.3,311.3 L601.6,316.2 L603.2,322.7 L608.0,327.5 L605.0,330.0 L600.0,336.0 L595.1,344.4 L587.4,349.0 L582.7,359.9 L576.5,369.2 L573.4,361.5 L568.7,355.2 L561.0,345.9 L556.3,339.7 L551.7,341.3 L545.4,352.1 L534.6,353.7 L526.8,355.2 L515.9,350.6 L506.6,347.5 L500.4,355.2 L491.0,367.7 L489.5,366.1 L477.1,366.1 L469.3,363.0 L460.0,366.1 L452.0,364.0 L445.0,363.7 L445.0,380.0 L451.0,386.8 L453.8,397.6 L449.7,411.1 L445.7,416.5 L433.5,415.1 L428.1,412.4 L421.4,405.7 L416.0,394.9 L414.6,386.8 L414.6,382.7 L410.5,383.4 L402.4,384.0 L396.7,384.7 L394.8,391.3 L396.7,400.8 L394.8,406.5 L390.1,412.2 L385.4,417.8 L380.7,424.4 L375.9,431.1 L371.2,436.7 L364.6,437.7 L357.0,433.0 L354.2,427.3 L352.3,417.8 L352.3,410.3 L358.9,408.4 L360.8,402.7 L362.7,398.0 L358.0,396.0 L352.0,392.0 L345.0,386.0 L347.0,379.8 L345.0,374.7 L343.0,366.6 L341.0,358.5 L338.9,352.4 L342.2,349.6 L355.7,348.2 L366.5,346.9 L371.9,338.8 L374.6,330.7 L374.6,322.6 L377.3,322.6 L384.1,322.6 L390.8,318.5 L394.9,311.8 L396.2,303.6 L396.2,295.5 L400.0,300.0 L411.0,302.8 L423.5,299.7 L434.4,290.4 L436.0,282.0 L428.0,268.0 L425.0,260.0 Z" fill="#f9b37a" stroke="#fdd9b8" stroke-width="0.9" stroke-linejoin="round"/>
<path d="M437.5,449.4 L442.1,436.9 L448.3,432.3 L453.0,428.4 L463.9,430.7 L471.7,433.8 L476.3,440.0 L479.4,447.8 L481.0,453.3 L488.7,457.1 L498.1,460.2 L501.2,466.5 L502.7,482.0 L501.2,491.3 L491.8,494.4 L485.0,496.0 L482.8,495.8 L478.5,501.5 L469.8,507.3 L464.0,511.6 L455.4,514.5 L454.0,505.9 L449.6,498.7 L441.0,494.3 L432.3,490.0 L429.7,485.1 L429.7,477.3 L435.0,472.0 L439.0,468.0 L440.6,468.0 L438.3,460.2 Z" fill="#f9b37a" stroke="#fdd9b8" stroke-width="0.9" stroke-linejoin="round"/>
<path d="M376.0,200.0 L400.0,195.0 L418.0,190.0 L425.0,150.0 L441.6,150.0 L444.9,161.1 L449.7,167.6 L459.5,174.0 L467.6,182.2 L472.4,193.5 L477.3,201.6 L493.5,202.4 L506.5,203.2 L505.0,207.5 L503.8,222.5 L507.0,234.6 L514.6,239.0 L529.4,240.5 L534.0,234.6 L537.0,227.0 L548.0,226.0 L545.0,215.0 L600.0,230.0 L640.0,245.0 L602.9,290.0 L599.8,299.3 L598.3,311.3 L593.5,308.1 L585.3,304.8 L577.2,303.2 L569.1,301.6 L559.4,308.1 L554.6,317.8 L544.8,321.0 L533.5,314.6 L528.6,304.8 L522.1,303.2 L512.4,306.5 L499.4,304.8 L489.7,295.1 L480.0,285.4 L481.0,284.2 L484.0,273.3 L481.0,259.0 L475.0,252.0 L460.0,249.0 L445.0,247.0 L430.0,249.0 L419.0,252.0 L425.0,260.0 L428.0,268.0 L436.0,282.0 L434.4,290.4 L423.5,299.7 L411.0,302.8 L400.0,300.0 L396.2,295.5 L396.1,288.2 L399.2,282.0 L397.7,269.6 L391.5,263.4 L385.2,257.1 L383.7,241.6 L382.1,232.3 L378.0,228.0 Z" fill="#fce4b9" stroke="#fdeed4" stroke-width="0.9" stroke-linejoin="round"/>
<path d="M442.0,259.0 L452.0,257.5 L454.0,262.0 L453.0,276.0 L451.5,288.5 L445.0,288.5 L436.0,287.0 L434.0,274.0 L438.0,266.0 Z" fill="#fce4b9" stroke="#fdeed4" stroke-width="0.9" stroke-linejoin="round"/>
<path d="M412.3,342.0 L423.2,338.8 L431.0,343.5 L438.7,349.7 L441.8,362.0 L441.8,380.0 L426.3,380.8 L412.3,382.3 L407.7,379.2 L398.4,366.8 L400.0,354.4 L406.0,349.7 L410.8,343.5 Z" fill="#fce4b9" stroke="#fdeed4" stroke-width="0.9" stroke-linejoin="round"/>
<path d="M471.7,433.8 L479.4,431.5 L488.7,433.1 L498.1,432.3 L508.9,431.5 L516.7,433.8 L519.8,438.5 L516.7,444.7 L508.9,450.9 L502.7,458.7 L499.6,461.8 L495.0,458.7 L487.2,455.6 L481.0,453.3 L477.9,446.3 L474.8,438.5 Z" fill="#fce4b9" stroke="#fdeed4" stroke-width="0.9" stroke-linejoin="round"/>
<path d="M598.3,253.0 L603.2,261.0 L604.8,272.4 L603.2,282.1 L604.8,287.0 L601.6,298.3 L598.3,309.7 L595.0,313.0 L596.7,317.8 L601.6,321.0 L604.8,324.3 L609.7,327.5 L625.0,332.0 L645.0,250.0 L609.7,249.0 L598.0,248.0 Z" fill="#ea6040" stroke="#fba88e" stroke-width="0.9" stroke-linejoin="round"/>
<path d="M305.0,210.0 L332.4,218.3 L335.5,230.7 L337.1,238.5 L340.2,244.7 L341.7,254.0 L338.6,260.2 L343.3,266.5 L344.9,271.1 L338.6,275.8 L329.3,274.2 L321.6,272.7 L310.0,268.0 Z" fill="#ea6040" stroke="#fba88e" stroke-width="0.9" stroke-linejoin="round"/>
<path d="M409.5,428.4 L420.4,424.5 L429.7,419.9 L434.4,415.2 L442.1,416.7 L448.3,418.3 L451.5,421.4 L451.5,427.6 L446.8,432.3 L442.1,436.9 L439.0,441.6 L437.5,449.4 L429.7,452.5 L423.5,450.9 L417.3,446.3 L412.6,440.0 L408.7,435.4 Z" fill="#b3060b" stroke="#e85a52" stroke-width="0.9" stroke-linejoin="round"/>
<path d="M300.0,470.0 L319.5,472.0 L325.8,471.2 L333.5,475.1 L341.3,476.6 L349.1,482.9 L356.8,489.1 L363.1,493.7 L364.6,498.4 L361.5,501.5 L356.8,503.1 L355.3,510.8 L353.7,517.0 L358.4,520.2 L361.6,518.8 L368.8,527.5 L378.9,531.8 L377.5,540.5 L380.4,547.7 L381.8,553.5 L376.1,556.3 L376.1,565.0 L340.0,565.0 L290.0,540.0 Z" fill="#b3060b" stroke="#e85a52" stroke-width="0.9" stroke-linejoin="round"/>
<path d="M389.5,495.3 L395.7,482.9 L401.9,481.3 L409.7,486.0 L419.0,487.5 L428.4,486.0 L428.4,490.6 L422.1,493.7 L417.5,503.1 L411.3,507.7 L403.5,507.7 L397.3,504.6 L392.6,500.0 Z" fill="#b3060b" stroke="#e85a52" stroke-width="0.9" stroke-linejoin="round"/>
<path d="M422.2,570.8 L426.5,567.9 L435.2,566.4 L443.9,557.8 L455.4,556.3 L464.0,553.5 L469.8,554.9 L480.0,560.0 L480.0,585.0 L420.0,585.0 Z" fill="#b3060b" stroke="#e85a52" stroke-width="0.9" stroke-linejoin="round"/>
<path d="M514.0,523.3 L520.2,517.0 L526.4,509.3 L531.1,504.6 L538.9,507.7 L546.6,510.8 L556.0,512.4 L563.7,513.9 L565.3,520.2 L564.5,527.9 L566.0,545.0 L540.0,545.0 L510.0,535.0 Z" fill="#b3060b" stroke="#e85a52" stroke-width="0.9" stroke-linejoin="round"/>
<path d="M580.8,444.0 L587.0,443.2 L593.3,445.5 L599.5,450.2 L604.1,454.9 L608.8,459.5 L610.4,462.6 L605.7,467.3 L604.1,473.5 L604.1,478.2 L608.8,482.9 L615.0,486.0 L624.4,487.5 L633.7,489.1 L640.0,492.0 L633.7,498.4 L629.0,504.6 L624.4,507.7 L618.1,510.8 L611.9,515.5 L607.3,517.0 L604.1,512.4 L601.0,507.7 L593.3,506.2 L587.0,507.7 L580.8,507.7 L574.6,510.8 L566.8,509.3 L562.2,506.2 L559.1,500.0 L557.5,492.2 L559.1,487.5 L556.0,479.7 L554.4,476.6 L559.1,473.5 L565.3,468.9 L571.5,464.2 L577.7,459.5 L582.4,454.9 L580.8,450.2 Z" fill="#b3060b" stroke="#e85a52" stroke-width="0.9" stroke-linejoin="round"/>
<path d="M248.8,287.5 L250.0,290.0 L252.5,293.8 L255.0,297.5 L256.3,302.5" fill="none" stroke="#fdb49a" stroke-width="0.9" stroke-linejoin="round"/>
<path d="M306.3,265.6 L307.5,273.8 L306.3,281.3 L300.0,285.0 L297.5,292.5" fill="none" stroke="#fdb49a" stroke-width="0.9" stroke-linejoin="round"/>
<path d="M343.3,263.3 L358.8,260.2 L374.4,257.1 L383.7,257.1" fill="none" stroke="#fdb49a" stroke-width="0.9" stroke-linejoin="round"/>
<path d="M455.2,395.6 L465.3,390.5 L473.8,397.2 L483.9,399.8 L490.7,402.3 L495.8,400.6" fill="none" stroke="#fdb49a" stroke-width="0.9" stroke-linejoin="round"/>
<path d="M495.8,388.8 L495.8,402.3 L494.1,410.8 L499.1,419.2 L502.5,429.3" fill="none" stroke="#fdb49a" stroke-width="0.9" stroke-linejoin="round"/>
<path d="M514.3,392.2 L512.7,402.3 L516.0,410.8 L519.4,419.2 L526.2,424.3 L529.6,427.7" fill="none" stroke="#fdb49a" stroke-width="0.9" stroke-linejoin="round"/>
<path d="M527.9,393.9 L529.6,402.3 L534.6,409.1 L541.4,412.5 L539.7,417.5 L534.6,422.6 L529.6,427.7 L534.6,434.4 L544.8,439.5 L549.8,449.6 L556.6,456.4 L561.7,459.8" fill="none" stroke="#fdb49a" stroke-width="0.9" stroke-linejoin="round"/>
<path d="M548.1,409.1 L554.9,417.5 L560.0,424.3 L565.0,427.7 L568.4,426.0 L575.2,432.7 L578.6,439.5 L585.3,442.9" fill="none" stroke="#fdb49a" stroke-width="0.9" stroke-linejoin="round"/>
<path d="M565.0,395.6 L565.0,405.7 L561.7,415.8 L560.0,424.3" fill="none" stroke="#fdb49a" stroke-width="0.9" stroke-linejoin="round"/>
<path d="M566.7,409.1 L575.2,414.1 L583.6,409.1 L592.1,407.4 L598.8,409.1" fill="none" stroke="#fdb49a" stroke-width="0.9" stroke-linejoin="round"/>
<path d="M527.9,431.0 L531.2,442.9 L532.1,456.4 L531.2,469.9 L529.6,480.0" fill="none" stroke="#fdb49a" stroke-width="0.9" stroke-linejoin="round"/>
<path d="M543.5,440.9 L552.9,450.2 L556.0,461.1 L562.2,464.2" fill="none" stroke="#fdb49a" stroke-width="0.9" stroke-linejoin="round"/>
<path d="M330.8,420.5 L336.2,427.3 L341.6,432.7 L349.7,434.0 L355.1,438.1 L363.2,439.5 L366.0,447.6 L366.0,455.7 L372.7,461.1 L376.8,465.1 L387.6,465.1 L395.7,467.8 L401.0,466.5" fill="none" stroke="#fdb49a" stroke-width="0.9" stroke-linejoin="round"/>
<path d="M364.6,439.5 L376.8,431.4 L383.5,423.2 L388.9,416.5 L395.7,419.2 L403.8,423.2 L409.2,430.0 L407.8,436.8 L411.9,444.9 L414.6,450.3" fill="none" stroke="#fdb49a" stroke-width="0.9" stroke-linejoin="round"/>
<path d="M388.9,416.5 L395.7,404.3 L395.7,396.2" fill="none" stroke="#fdb49a" stroke-width="0.9" stroke-linejoin="round"/>
<path d="M364.6,397.6 L376.8,396.2 L387.6,396.2 L395.7,396.2" fill="none" stroke="#fdb49a" stroke-width="0.9" stroke-linejoin="round"/>
<path d="M368.6,380.0 L370.0,388.1 L367.3,396.2" fill="none" stroke="#fdb49a" stroke-width="0.9" stroke-linejoin="round"/>
<path d="M413.2,385.4 L414.6,393.5 L420.0,401.6 L428.1,409.7 L429.5,415.1" fill="none" stroke="#fdb49a" stroke-width="0.9" stroke-linejoin="round"/>
<path d="M364.6,464.2 L363.1,470.4 L364.6,476.6" fill="none" stroke="#fdb49a" stroke-width="0.9" stroke-linejoin="round"/>
<path d="M307.1,520.2 L313.3,518.6 L324.2,519.4 L333.5,517.8 L341.3,518.6 L349.1,517.0 L355.3,517.0" fill="none" stroke="#fdb49a" stroke-width="0.9" stroke-linejoin="round"/>
<path d="M401.2,519.2 L393.5,525.4 L385.8,530.0 L379.6,534.6 L378.0,540.8" fill="none" stroke="#fdb49a" stroke-width="0.9" stroke-linejoin="round"/>
<path d="M390.4,499.2 L398.0,508.5 L401.2,519.2" fill="none" stroke="#fdb49a" stroke-width="0.9" stroke-linejoin="round"/>
<path d="M418.0,505.4 L422.7,514.6 L428.8,525.4 L433.5,528.5" fill="none" stroke="#fdb49a" stroke-width="0.9" stroke-linejoin="round"/>
<path d="M427.3,527.0 L441.2,528.5 L453.5,528.5 L456.5,519.2 L459.6,516.2" fill="none" stroke="#fdb49a" stroke-width="0.9" stroke-linejoin="round"/>
<path d="M393.5,556.2 L396.5,545.4 L404.2,540.8 L408.8,534.6 L416.5,534.6 L422.7,536.2 L427.3,543.8 L430.4,553.0 L431.9,562.3" fill="none" stroke="#fdb49a" stroke-width="0.9" stroke-linejoin="round"/>
<path d="M453.5,528.5 L456.5,534.6 L471.9,537.7 L478.0,536.2" fill="none" stroke="#fdb49a" stroke-width="0.9" stroke-linejoin="round"/>
<path d="M482.7,505.4 L493.5,502.3 L502.7,506.9 L507.3,513.0 L508.8,520.8" fill="none" stroke="#fdb49a" stroke-width="0.9" stroke-linejoin="round"/>
<path d="M471.9,470.0 L473.5,477.7 L476.5,487.0 L482.7,499.2" fill="none" stroke="#fdb49a" stroke-width="0.9" stroke-linejoin="round"/>
<path d="M563.7,487.5 L570.0,479.7 L577.7,475.1 L587.0,472.0 L596.4,470.4 L604.1,465.8" fill="none" stroke="#fdb49a" stroke-width="0.9" stroke-linejoin="round"/>
<path d="M604.1,478.2 L599.5,484.4 L601.0,492.2 L604.1,498.4 L599.5,504.6" fill="none" stroke="#fdb49a" stroke-width="0.9" stroke-linejoin="round"/>
<path d="M565.3,510.8 L565.3,523.3 L565.3,535.7" fill="none" stroke="#fdb49a" stroke-width="0.9" stroke-linejoin="round"/>
<path d="M565.3,510.8 L577.7,507.7 L590.2,506.2 L599.5,506.2 L605.7,513.9 L608.8,517.0" fill="none" stroke="#fdb49a" stroke-width="0.9" stroke-linejoin="round"/>
<path d="M559.1,500.0 L563.7,509.3" fill="none" stroke="#fdb49a" stroke-width="0.9" stroke-linejoin="round"/>
<path d="M420.4,304.4 L418.8,315.2 L426.6,320.0 L442.1,323.0 L453.0,324.6 L462.3,326.1" fill="none" stroke="#fdb49a" stroke-width="0.9" stroke-linejoin="round"/>
<path d="M442.1,323.0 L439.0,337.0 L431.3,343.2" fill="none" stroke="#fdb49a" stroke-width="0.9" stroke-linejoin="round"/>
<path d="M403.3,318.3 L406.4,333.9 L411.1,343.2" fill="none" stroke="#fdb49a" stroke-width="0.9" stroke-linejoin="round"/>
<path d="M469.0,327.5 L480.0,327.5 L493.0,329.1 L501.1,332.4 L505.9,337.2 L506.6,347.5" fill="none" stroke="#fdb49a" stroke-width="0.9" stroke-linejoin="round"/>
<path d="M512.4,307.0 L509.2,321.0 L505.9,330.8 L504.3,334.0" fill="none" stroke="#fdb49a" stroke-width="0.9" stroke-linejoin="round"/>
<path d="M551.3,321.0 L554.6,330.8 L564.3,332.4 L577.2,330.8 L587.0,325.9 L593.5,322.7 L598.3,321.5" fill="none" stroke="#fdb49a" stroke-width="0.9" stroke-linejoin="round"/>
<path d="M551.3,321.0 L549.7,330.8 L552.9,338.9 L556.3,339.7" fill="none" stroke="#fdb49a" stroke-width="0.9" stroke-linejoin="round"/>
<path d="M604.8,285.4 L611.0,288.0 L617.8,291.9 L621.0,292.0" fill="none" stroke="#fdb49a" stroke-width="0.9" stroke-linejoin="round"/>
<ellipse cx="446.6" cy="261" rx="2.6" ry="2.2" fill="#fffaf4"/>
<path d="M447.6,267.6 Q447.6,262.6 450.8,262.6 Q454,262.6 454,267.6 Z" fill="#d9443a" stroke="#fbd6c4" stroke-width="0.6"/>
<ellipse cx="542.8" cy="525" rx="1.4" ry="2" fill="#fbf6e6" stroke="#5a4838" stroke-width="0.5"/>
<path d="M320.5,268.5 L322.9,270.0 L325.3,271.5 L327.8,272.9 L330.2,274.4 L332.8,275.5 L335.4,276.6 L334.9,279.3 L336.0,282.0 L335.4,284.7 L335.4,287.4 L334.6,290.1 L334.7,292.8 L334.1,295.5 L334.7,298.3 L334.0,301.0 L332.4,303.0 L330.9,305.2 L328.9,307.0 L327.3,309.0 L324.6,309.5 L322.0,310.7 L319.3,311.0 L316.6,311.5 L313.8,311.8 L311.0,312.0 L308.3,312.8 L305.8,314.2 L303.0,314.5 L300.9,316.0 L299.7,318.4 L297.6,319.9 L295.2,320.8 L293.0,322.3 L290.7,323.5 L288.1,323.9 L285.7,325.6 L284.0,328.0" fill="none" stroke="#5a4838" stroke-width="1.3" stroke-linejoin="round"/>
<path d="M335.4,276.6 L338.6,277.0 L341.7,277.0 L344.9,276.6 L347.6,276.9 L350.3,277.0 L353.1,277.1 L355.7,278.0 L358.5,277.3 L361.1,276.2 L363.8,275.3 L365.4,277.7 L367.5,279.7 L369.2,282.0 L372.0,281.6 L374.5,280.4 L377.4,280.3 L380.0,279.3 L382.1,280.9 L384.6,282.0 L386.8,283.5 L389.1,285.5 L391.3,287.6 L394.0,289.1 L396.1,291.3" fill="none" stroke="#5a4838" stroke-width="1.3" stroke-linejoin="round"/>
<path d="M417.9,202.0 L419.9,203.5 L421.9,205.1 L423.4,207.2 L425.7,208.4 L427.2,210.5 L427.7,213.6 L428.4,216.7 L428.7,219.9 L428.9,222.7 L427.9,225.3 L428.1,228.1 L427.2,230.7 L427.7,233.4 L428.5,236.1 L428.8,238.8 L428.7,241.6 L427.2,244.7 L424.7,246.8 L421.8,248.5 L419.4,250.9 L419.9,254.0 L419.7,257.1 L419.4,260.2 L416.3,260.0 L413.2,260.2 L410.5,261.0 L408.2,262.6 L405.8,264.1 L403.0,264.7 L400.8,266.5 L399.7,269.1 L397.7,271.1 L397.8,273.8 L398.9,276.3 L399.2,278.9 L399.1,282.1 L398.7,285.2 L397.7,288.2 L396.1,291.3" fill="none" stroke="#5a4838" stroke-width="1.3" stroke-linejoin="round"/>
<path d="M419.2,253.0 L421.3,250.8 L424.2,249.4 L425.9,246.7 L428.5,245.0 L431.4,245.2 L434.2,244.5 L437.1,244.7 L440.0,245.0 L442.6,246.5 L445.6,246.5 L448.2,247.9 L451.1,248.6 L453.8,249.6 L456.4,249.5 L459.1,249.6 L461.7,249.2 L464.4,250.0 L467.0,249.1 L469.7,249.3 L472.3,249.6 L474.9,251.1 L477.0,253.4 L479.1,255.5 L480.9,257.9 L483.5,259.5 L483.2,262.4 L483.2,265.3 L482.6,268.1 L481.3,270.9 L481.5,273.8 L482.0,276.4 L481.4,279.0 L481.6,281.6 L481.5,284.2 L478.7,284.7 L476.0,285.8 L473.2,286.1 L470.5,287.0 L467.7,287.7 L467.1,290.4 L466.4,293.0 L466.5,295.8 L464.0,295.7 L461.5,296.2 L459.0,296.3 L456.5,295.3 L454.0,295.8 L451.5,295.8 L450.0,293.0 L449.2,290.0 L446.8,289.0 L444.1,289.0 L441.6,288.3 L439.1,287.7 L436.5,287.7 L434.7,285.5 L433.2,283.2 L432.1,280.5 L429.7,278.8 L428.5,276.2 L427.8,273.5 L426.0,271.2 L425.6,268.4 L424.6,265.8 L423.8,263.1 L422.7,260.6 L421.3,258.2 L419.9,255.7 L419.2,253.0" fill="none" stroke="#5a4838" stroke-width="1.3" stroke-linejoin="round"/>
<path d="M506.3,198.8 L506.7,201.3 L507.3,203.8 L507.5,206.3 L507.1,209.3 L505.4,212.0 L505.0,215.0 L504.9,217.6 L503.7,220.0 L502.7,222.4 L502.5,225.0 L502.6,227.6 L501.6,230.0 L501.3,232.5 L498.3,234.0 L495.4,235.8 L492.8,238.0 L489.6,239.2 L489.4,241.9 L488.6,244.6 L488.5,247.3 L487.6,249.8 L486.3,252.1 L485.9,254.8 L484.8,257.2 L483.5,259.5" fill="none" stroke="#5a4838" stroke-width="1.3" stroke-linejoin="round"/>
<path d="M481.0,284.2 L480.0,285.4 L481.9,287.4 L483.9,289.2 L485.8,291.3 L488.0,292.9 L489.7,295.1 L491.4,297.3 L493.3,299.3 L495.4,301.1 L497.7,302.6 L499.4,304.8 L502.0,305.2 L504.6,305.3 L507.2,305.5 L509.7,306.7 L512.4,306.5 L515.0,306.2 L517.1,304.3 L519.8,304.4 L522.1,303.2 L525.3,304.1 L528.6,304.8 L530.0,307.2 L531.3,309.6 L532.1,312.2 L533.5,314.6 L535.8,315.8 L537.9,317.4 L540.2,318.6 L542.8,319.3 L544.8,321.0 L547.3,320.5 L549.9,320.0 L552.3,319.1 L554.6,317.8 L555.9,315.4 L556.5,312.7 L557.7,310.3 L559.4,308.1 L561.6,306.1 L564.5,305.3 L566.5,303.0 L569.1,301.6 L571.8,302.0 L574.4,303.1 L577.2,303.2 L579.9,303.5 L582.6,304.3 L585.3,304.8 L588.1,305.8 L591.0,306.5 L593.5,308.1 L595.8,309.8 L598.3,311.3 L599.6,314.0 L601.6,316.2 L602.8,319.4 L603.2,322.7 L605.8,324.9 L608.0,327.5" fill="none" stroke="#5a4838" stroke-width="1.3" stroke-linejoin="round"/>
<path d="M467.0,295.0 L468.1,298.1 L469.0,301.3 L470.1,304.4 L468.7,306.7 L468.3,309.4 L467.3,311.8 L466.2,314.3 L465.4,316.8 L465.4,319.6 L464.6,322.2 L464.1,325.0 L463.9,327.7 L464.1,330.4 L465.4,332.8 L465.7,335.4 L466.4,337.9 L466.1,340.7 L467.0,343.2 L467.7,346.2 L469.4,348.9 L469.8,352.0 L469.2,355.5 L469.8,359.0 L467.8,361.0 L466.7,363.7" fill="none" stroke="#5a4838" stroke-width="1.3" stroke-linejoin="round"/>
<path d="M466.7,363.7 L469.3,364.3 L471.9,365.1 L474.5,365.7 L477.1,366.1 L480.2,365.7 L483.3,365.5 L486.4,365.9 L489.5,366.1 L491.3,368.6 L492.3,371.5 L494.2,373.9 L495.6,376.4 L497.2,378.6 L498.8,380.9 L500.4,383.2 L500.7,386.3 L501.8,389.3 L501.9,392.5 L504.4,391.8 L506.8,390.9 L509.5,391.1 L511.8,389.5 L514.4,389.4 L517.5,389.8 L520.6,388.9 L523.7,389.6 L526.8,389.4 L527.9,386.8 L529.2,384.4 L530.9,382.1 L531.2,379.2 L533.0,377.0 L536.1,376.5 L539.2,377.5 L542.3,377.0 L544.9,378.5 L547.7,379.6 L550.1,381.6 L552.5,383.2 L555.1,384.2 L557.9,384.8 L560.5,383.9 L563.3,383.9 L565.9,383.2 L568.7,383.2 L573.4,381.6 L575.0,383.0" fill="none" stroke="#5a4838" stroke-width="1.3" stroke-linejoin="round"/>
<path d="M370.4,343.5 L371.9,338.8 L372.5,336.0 L373.9,333.5 L374.6,330.7 L374.8,328.0 L375.0,325.3 L374.6,322.6 L377.8,322.2 L380.9,322.3 L384.1,322.6 L386.1,320.9 L388.4,319.6 L390.8,318.5 L392.4,316.4 L393.2,313.8 L394.9,311.8 L395.4,309.1 L395.4,306.3 L396.2,303.6 L395.9,300.5 L396.1,297.5 L396.5,294.4 L396.1,291.3" fill="none" stroke="#5a4838" stroke-width="1.3" stroke-linejoin="round"/>
<path d="M328.8,384.9 L331.2,383.9 L333.9,384.1 L336.4,383.5 L338.9,382.8 L341.8,382.3 L344.2,380.5 L347.0,379.8 L345.7,377.4 L345.0,374.7 L344.6,371.9 L343.9,369.3 L343.0,366.6 L342.1,364.0 L341.9,361.1 L341.0,358.5 L339.8,355.5 L338.9,352.4 L339.3,349.7 L342.1,349.8 L344.7,348.7 L347.5,348.6 L350.3,349.2 L353.0,348.3 L355.7,348.2 L358.4,347.6 L361.1,347.9 L363.8,347.4 L366.5,346.9 L368.2,344.9 L370.4,343.5" fill="none" stroke="#5a4838" stroke-width="1.3" stroke-linejoin="round"/>
<path d="M370.4,343.5 L371.5,346.1 L374.0,347.8 L374.8,350.6 L376.6,352.8 L379.1,352.7 L381.5,354.0 L384.1,353.2 L386.5,354.5 L389.0,354.4 L390.9,357.1 L392.8,359.8 L395.2,362.1 L396.3,365.5 L398.4,368.3 L400.7,370.2 L402.7,372.4 L404.6,374.6 L405.9,377.8 L407.7,380.8 L410.8,380.8 L413.9,381.1 L417.0,381.6 L419.7,381.2 L422.5,381.9 L425.3,381.8 L428.0,381.6 L430.8,380.8 L433.5,381.6 L436.3,381.0 L439.0,380.6 L441.8,380.8 L445.0,377.7 L446.8,375.8 L448.7,373.9 L450.2,371.7 L452.5,370.2 L454.3,368.3 L456.7,367.2 L459.3,366.5 L461.9,366.0 L464.3,364.8 L466.7,363.7" fill="none" stroke="#5a4838" stroke-width="1.3" stroke-linejoin="round"/>
<path d="M445.0,377.7 L446.2,380.7 L447.0,383.9 L448.0,387.0 L449.2,390.1 L450.2,393.2 L451.2,396.3 L451.0,398.8 L450.4,401.2 L450.5,403.8 L449.8,406.2 L449.6,408.7 L450.8,411.8 L451.1,415.1 L451.5,418.3 L451.7,421.4 L451.9,424.5 L451.5,427.6 L449.4,429.3 L447.9,431.5 L445.6,433.0 L443.6,434.7 L442.1,437.0 L441.5,439.6 L439.8,441.8 L439.0,444.3 L438.2,446.9 L437.5,449.4 L439.0,454.0 L439.9,456.4 L439.7,459.0 L439.8,461.5 L440.5,464.0 L440.6,466.5" fill="none" stroke="#5a4838" stroke-width="1.3" stroke-linejoin="round"/>
<path d="M437.5,449.4 L435.0,449.7 L432.5,449.7 L429.9,449.8 L427.5,450.9 L425.0,451.0 L422.4,450.5 L419.7,450.4 L417.1,450.2 L414.4,450.2 L413.7,453.1 L412.6,455.9 L411.0,458.4 L409.7,461.1 L407.9,463.4 L406.8,466.2 L405.0,468.5 L403.6,471.1 L401.9,473.5 L400.5,475.9 L399.3,478.5 L398.8,481.3 L397.3,483.4 L395.2,485.1 L394.6,487.8 L392.3,489.3 L390.7,491.4 L389.5,493.7 L387.1,494.4 L384.5,494.1 L382.0,494.6 L379.4,494.4 L377.0,495.3 L374.6,496.3 L372.0,496.5 L369.4,496.7 L367.0,497.6 L364.6,498.4 L362.5,500.9 L360.0,503.1 L358.9,505.9 L356.4,508.0 L355.3,510.8 L354.5,513.9 L353.7,517.0 L355.4,519.5 L358.2,520.9 L360.0,523.3 L359.1,526.3 L358.6,529.4 L358.4,532.6 L356.4,535.5 L355.3,538.8 L355.1,542.0 L353.7,545.0 L353.4,547.8 L353.4,550.6 L352.1,553.2 L352.0,556.0" fill="none" stroke="#5a4838" stroke-width="1.3" stroke-linejoin="round"/>
<path d="M440.6,466.5 L442.6,464.9 L445.1,464.1 L447.0,462.5 L449.1,461.1 L451.5,460.2 L453.8,458.6 L456.1,457.1 L458.5,455.5 L460.8,454.0 L462.1,456.5 L463.5,458.9 L464.8,461.4 L465.6,464.1 L467.0,466.5 L468.4,464.0 L470.3,461.9 L471.9,459.6 L473.2,457.1 L476.0,456.2 L478.6,455.0 L481.0,453.3 L483.7,453.8 L486.2,454.5 L488.7,455.6 L491.2,457.4 L493.9,458.7 L496.5,460.2 L499.1,462.3 L501.2,464.9 L501.6,467.4 L502.0,470.0 L502.7,472.4 L504.0,474.7 L504.3,477.3 L507.0,479.2 L509.8,481.0 L512.0,483.5 L514.6,484.5 L517.5,484.0 L520.1,485.0 L522.9,485.1 L526.2,485.6 L529.5,486.0" fill="none" stroke="#5a4838" stroke-width="1.3" stroke-linejoin="round"/>
<path d="M529.5,486.0 L529.9,488.5 L530.4,491.0 L531.3,493.4 L532.0,495.9 L532.6,498.4 L531.2,501.6 L529.5,504.6 L527.1,505.7 L525.5,507.9 L523.3,509.3 L521.6,511.5 L519.6,513.4 L517.7,515.3 L515.5,517.0 L513.6,519.2 L511.6,521.4 L509.3,523.3 L507.5,525.0" fill="none" stroke="#5a4838" stroke-width="1.3" stroke-linejoin="round"/>
<path d="M529.5,486.0 L532.9,484.9 L535.8,482.9 L538.9,479.7 L540.4,482.9 L542.3,484.6 L544.3,486.2 L546.6,487.5 L549.1,488.5 L551.9,488.3 L554.4,489.1 L557.5,488.5 L560.6,487.5 L559.5,485.1 L557.9,483.1 L556.0,481.3 L554.4,476.6 L556.8,475.1 L559.1,473.5 L560.9,471.6 L563.2,470.3 L565.3,468.9 L567.7,467.8 L569.1,465.4 L571.5,464.2 L573.4,462.5 L576.0,461.5 L577.7,459.5 L580.0,457.2 L582.4,454.9 L580.8,450.2 L580.5,447.1 L580.8,444.0 L583.9,443.4 L587.0,443.2 L590.0,444.8 L593.3,445.5 L595.5,446.9 L597.5,448.6 L599.5,450.2 L601.7,452.7 L604.1,454.9 L606.2,457.5 L608.8,459.5 L610.4,462.6" fill="none" stroke="#5a4838" stroke-width="1.3" stroke-linejoin="round"/>
</g>
<path d="M215.0,266.3 L218.8,263.1 L221.8,261.8 L225.0,261.3 L228.2,261.0 L231.3,260.0 L234.7,259.9 L237.9,258.9 L241.3,258.8 L245.0,260.6 L250.0,260.0 L253.8,261.3 L255.0,258.4 L256.3,255.6 L259.7,255.2 L263.2,255.2 L266.6,255.0 L270.0,254.4 L272.8,256.9 L275.0,260.0 L277.1,262.2 L278.0,265.2 L280.0,267.5 L285.0,270.6 L287.5,268.7 L290.0,266.9 L293.8,266.9 L297.5,266.3 L302.5,268.1 L306.3,265.6 L310.0,265.6 L312.5,268.1 L316.2,267.6 L320.0,268.1 L320.0,264.0 L320.2,260.0 L320.4,256.9 L320.2,253.7 L319.4,250.7 L319.6,247.4 L318.6,244.4 L318.5,241.2 L317.1,238.3 L317.1,235.1 L315.6,232.2 L315.1,228.9 L314.0,225.8 L313.4,222.0 L311.8,218.6 L310.9,214.9 L314.0,218.0 L317.9,217.7 L321.7,218.0 L324.8,217.6 L327.9,217.0 L331.1,217.2 L333.4,221.1 L334.1,224.2 L334.2,227.3 L335.8,230.0 L337.3,232.8 L340.4,233.0 L343.5,233.0 L346.6,233.5 L349.8,233.7 L352.9,234.3 L355.9,235.1 L359.0,236.1 L362.2,236.9 L365.2,238.2 L368.9,236.2 L373.0,235.1 L377.0,233.9 L380.8,232.0 L376.1,229.7 L375.3,225.8 L377.2,223.2 L379.1,220.7 L380.8,218.0 L383.7,216.1 L387.2,215.4 L390.1,213.3 L393.9,212.4 L397.2,210.4 L401.0,209.5 L404.5,207.8 L408.3,206.6 L411.8,204.8 L415.1,203.0 L418.1,200.9 L420.4,198.1 L421.9,194.7 L423.0,191.6 L424.3,188.5 L424.4,185.4 L424.0,182.3 L423.5,179.2 L423.6,176.1 L424.1,173.0 L424.3,169.9 L425.1,166.0 L425.0,162.1 L428.7,160.9 L432.0,159.0 L435.9,157.5 L439.8,155.9 L443.3,155.1 L446.7,153.6 L450.2,152.9 L453.8,152.2 L454.7,155.1 L456.2,157.8 L458.2,161.4 L460.0,165.0 L463.4,165.5 L466.7,166.7 L470.0,167.5 L475.0,167.5 L476.0,170.7 L477.3,173.8 L478.9,176.8 L480.0,180.0 L483.4,181.9 L486.7,184.0 L490.0,186.0 L493.0,187.3 L496.2,188.0 L499.4,188.9 L502.5,190.0 L503.6,193.3 L505.1,196.5 L505.7,200.0 L506.2,203.2 L505.7,206.3 L508.6,207.8 L512.1,207.5 L515.6,207.3 L519.0,206.3 L522.0,203.4 L523.5,198.9 L526.5,197.4 L527.1,201.2 L528.0,204.9 L528.1,208.6 L528.0,212.3 L531.2,214.2 L533.9,216.7 L537.6,218.2 L541.3,219.7 L544.3,222.7 L547.3,227.1 L550.2,228.6 L553.4,227.6 L556.2,225.7 L559.1,226.7 L562.1,227.1 L565.8,227.9 L569.6,228.6 L574.0,230.1 L577.6,231.2 L581.4,231.6 L584.4,234.6 L586.2,237.4 L587.4,240.5 L590.4,243.5 L594.8,240.5 L599.3,243.5 L603.7,245.0 L606.9,244.6 L610.0,244.2 L612.8,245.8 L616.0,246.5 L619.0,247.6 L622.0,248.5 L625.3,249.1 L628.5,249.5 L631.7,250.4 L635.0,251.0 L633.3,253.7 L633.0,257.0 L631.0,259.5 L630.0,262.5 L628.4,265.5 L627.1,268.6 L626.0,271.8 L625.0,275.0 L624.0,278.1 L623.7,281.2 L623.1,284.4 L622.5,287.5 L622.0,290.6 L621.7,293.8 L620.2,296.8 L620.0,300.0 L619.7,303.0 L619.9,306.0 L619.4,309.0 L619.2,312.0 L619.0,315.0 L618.7,318.4 L618.2,321.7 L617.5,325.0 L614.7,326.5 L612.0,328.0 L608.5,327.4 L605.0,327.0 L602.5,330.0 L600.7,333.3 L599.2,336.7 L597.5,340.0 L595.9,342.8 L593.7,345.2 L591.8,347.7 L589.4,349.9 L587.5,352.5 L585.3,354.8 L583.5,357.3 L581.6,359.8 L580.0,362.5 L577.8,365.4 L576.5,368.9 L574.1,371.7 L572.5,375.0 L573.6,378.8 L575.0,382.5 L574.1,385.5 L572.8,388.4 L571.0,391.0 L573.7,388.6 L577.2,387.2 L580.0,385.0 L582.3,382.8 L585.0,381.0 L588.3,380.2 L591.7,380.5 L595.0,380.0 L597.5,385.0 L598.5,388.3 L599.6,391.6 L600.0,395.0 L602.8,397.2 L605.0,400.0 L604.1,403.3 L603.7,406.8 L602.5,410.0 L604.4,413.2 L605.6,416.8 L607.5,420.0 L609.3,423.7 L611.0,427.5 L610.7,431.3 L610.0,435.0 L606.3,436.3 L602.5,437.5 L600.4,440.4 L597.5,442.5 L598.9,446.2 L600.0,450.0 L602.6,452.4 L605.2,454.8 L607.5,457.5 L610.0,462.5 L608.7,465.2 L606.3,467.3 L605.0,470.0 L604.2,473.3 L603.6,476.7 L602.5,480.0 L603.6,483.8 L605.0,487.5 L608.0,487.8 L611.0,487.0 L614.0,487.0 L617.0,487.1 L620.0,487.5 L623.1,488.4 L626.3,488.4 L629.3,489.6 L632.5,490.0 L634.0,492.5 L631.7,495.7 L629.6,499.1 L627.5,502.5 L625.2,505.2 L622.1,507.1 L619.8,509.8 L617.5,512.5 L615.0,514.2 L612.7,516.1 L610.0,517.5 L607.4,519.9 L605.0,522.5 L603.4,525.9 L601.6,529.1 L600.0,532.5 L597.6,535.1 L595.0,537.5 L591.8,538.2 L588.9,539.7 L585.7,540.3 L582.5,541.0 L579.1,541.0 L575.8,541.6 L572.5,542.5 L569.9,541.0 L567.7,538.8 L565.0,537.5 L561.6,536.5 L558.5,534.7 L555.0,534.0 L551.7,533.2 L548.3,533.1 L545.0,532.5 L541.6,531.9 L538.2,531.4 L535.0,530.0 L531.9,528.0 L528.1,527.1 L525.0,525.0 L521.7,524.6 L518.3,524.5 L515.0,525.0 L511.2,524.9 L507.5,525.0 L504.5,526.6 L501.1,527.1 L497.9,528.3 L495.0,530.0 L490.0,531.8 L485.7,533.3 L482.7,535.3 L479.9,537.6 L477.0,540.5 L474.1,543.4 L472.8,547.0 L471.3,550.6 L470.7,554.9 L469.8,559.2 L470.6,563.0 L470.6,567.0 L471.3,570.8 L474.1,575.1 L469.8,576.5 L464.0,576.5 L461.2,577.5 L458.4,578.8 L455.4,579.4 L449.6,580.9 L445.2,580.6 L441.0,579.4 L436.7,578.5 L432.3,578.0 L428.6,576.0 L425.1,573.7 L422.2,569.3 L417.9,566.4 L415.0,565.5 L412.0,564.7 L409.2,563.6 L406.5,562.2 L403.6,561.3 L400.6,560.7 L397.1,560.2 L393.8,559.1 L390.5,557.8 L386.9,557.2 L383.3,556.3 L379.4,558.0 L376.1,560.7 L372.4,561.1 L368.8,562.1 L365.2,561.5 L361.5,561.0 L358.0,559.7 L354.4,559.2 L351.4,557.5 L348.3,556.0 L345.0,555.0 L341.6,553.5 L338.5,551.3 L335.0,550.0 L331.8,548.1 L328.3,546.7 L325.0,545.0 L322.1,543.7 L318.9,543.7 L316.1,542.4 L312.9,542.2 L310.0,541.0 L308.4,538.1 L307.5,535.0 L305.3,532.4 L302.3,530.7 L300.2,528.0 L297.5,526.0 L300.1,524.3 L302.5,522.5 L304.5,519.3 L305.7,515.8 L307.5,512.5 L308.2,509.5 L308.9,506.6 L310.4,503.9 L310.9,500.9 L312.1,498.1 L312.5,495.0 L313.7,491.8 L313.8,488.2 L315.1,485.0 L315.4,481.6 L316.2,478.2 L317.5,475.0 L319.7,470.0 L319.7,465.9 L320.7,461.9 L321.6,458.9 L322.0,455.9 L322.6,452.8 L322.7,449.7 L323.0,446.6 L323.8,443.7 L324.5,440.7 L324.7,437.6 L325.1,434.5 L325.8,431.5 L326.0,428.4 L326.8,425.4 L327.4,422.2 L328.8,419.3 L326.9,416.4 L325.8,413.0 L323.7,410.2 L324.7,405.1 L325.8,401.1 L326.8,397.0 L326.7,392.9 L325.7,388.9 L328.8,384.9 L324.7,380.8 L320.6,379.8 L316.6,378.8 L313.7,376.3 L311.4,373.2 L308.5,370.7 L306.8,367.8 L304.0,365.6 L302.4,362.6 L300.5,360.1 L298.1,358.2 L296.4,355.5 L294.9,352.1 L294.3,348.4 L295.8,345.5 L296.4,342.3 L294.3,337.2 L291.0,336.2 L288.2,334.2 L286.4,331.3 L285.2,328.1 L284.2,324.8 L282.2,322.0 L281.3,321.3 L278.1,320.7 L275.0,320.0 L271.9,318.7 L269.0,317.0 L266.3,315.0 L263.0,312.7 L260.0,310.0 L257.0,307.9 L253.8,306.3 L250.0,303.8 L246.2,303.6 L242.5,302.5 L239.5,301.5 L236.3,301.3 L232.6,301.4 L228.8,301.3 L226.3,296.3 L223.8,292.5 L220.2,291.0 L216.3,290.6 L215.0,288.8 L218.2,288.6 L221.3,287.5 L225.0,286.7 L228.8,286.3 L227.5,283.1 L223.8,279.4 L226.3,277.5 L223.8,275.6 L220.6,275.3 L217.5,274.4 L214.4,271.3 Z" fill="none" stroke="#4b3b31" stroke-width="1.3" stroke-linejoin="round"/>
<path d="M698.3,539.8 L701.7,541.1 L702.7,551.4 L700.9,555.2 L704.7,559.1 L707.3,566.8 L708.6,577.0 L706.0,587.3 L704.7,597.6 L702.2,607.9 L699.6,615.6 L697.0,619.4 L691.9,615.6 L686.8,610.4 L684.5,607.0 L680.5,603.5 L681.6,600.5 L678.2,596.5 L680.5,593.0 L675.5,590.0 L677.5,586.5 L673.0,583.5 L676.0,579.5 L672.6,577.0 L673.9,571.9 L679.0,564.2 L684.2,559.1 L691.9,555.2 L697.0,552.6 L695.8,546.2 Z" fill="#ea6040" stroke="#4b3b31" stroke-width="1.2" stroke-linejoin="round"/>
<ellipse cx="276" cy="320.3" rx="2.6" ry="1.5" fill="#56606e"/>
<path d="M316.5,387.5 Q320,387.2 323.5,389.3 Q320,390.2 316.5,388.8 Z" fill="#5a4a40"/>
<path d="M319.6,396.5 Q322.5,397.5 323,401 Q322.8,404.5 321.5,404.8 Q319.5,401 319.6,396.5 Z" fill="#ea6040" stroke="#4b3b31" stroke-width="0.8"/>
<path d="M320.6,460.5 Q325,460 327.5,463 Q324.5,465.5 320.3,465 Z" fill="#e8f2f4" stroke="#4b3b31" stroke-width="0.8"/>
<path d="M673.9,572 L681,574.5 L688,577.5 L692,582 L694.5,587.3 L697,595 L702.7,597" fill="none" stroke="#fbd6c4" stroke-width="0.9"/>
<g stroke="#4b3b31" stroke-width="1" stroke-linejoin="round">
<path d="M214.2,639.7 C216.3,638.6 221.0,638.2 223.4,638.8 C225.8,639.4 227.7,641.1 228.8,643.4 C229.9,645.7 229.5,649.1 229.8,652.5 C230.1,655.9 231.2,660.5 230.7,663.5 C230.2,666.5 228.8,669.1 227.0,670.8 C225.2,672.5 221.8,673.8 219.7,673.5 C217.6,673.2 215.7,671.5 214.2,668.9 C212.7,666.3 211.2,662.0 210.6,658.0 C210.0,654.0 210.0,648.2 210.6,645.2 C211.2,642.2 212.1,640.8 214.2,639.7 Z" fill="#b3060b"/>
<path d="M228.0,646.0 C228.7,644.4 232.7,643.2 233.4,640.6 C234.2,638.0 232.0,633.0 232.5,630.6 C233.0,628.2 234.8,626.6 236.2,626.0 C237.6,625.4 239.5,625.6 240.7,627.0 C241.9,628.4 242.7,632.1 243.5,634.2 C244.3,636.3 244.4,639.1 245.3,639.7 C246.2,640.3 247.2,637.3 249.0,637.9 C250.8,638.5 254.1,641.7 256.2,643.4 C258.3,645.1 262.0,647.1 261.7,648.0 C261.4,648.9 257.4,648.3 254.4,648.8 C251.4,649.2 247.2,650.5 243.5,650.7 C239.8,650.9 234.8,649.9 232.5,649.8 C230.2,649.7 230.2,650.6 229.5,650.0 C228.8,649.4 227.3,647.6 228.0,646.0 Z" fill="#b3060b"/>
<path d="M283.6,625.1 C285.4,623.9 290.9,625.5 294.6,627.0 C298.3,628.5 302.6,632.7 305.6,634.2 C308.7,635.7 310.8,635.9 312.9,636.0 C315.0,636.1 317.3,634.8 318.4,635.1 C319.5,635.4 319.9,637.1 319.3,637.9 C318.7,638.7 314.9,638.8 314.7,639.7 C314.5,640.6 318.1,641.9 318.4,643.4 C318.7,644.9 315.6,646.4 316.5,648.8 C317.4,651.2 322.3,655.2 323.8,658.0 C325.3,660.8 325.7,663.2 325.7,665.3 C325.7,667.4 324.1,669.1 323.8,670.8 C323.5,672.5 324.4,674.5 323.8,675.3 C323.2,676.0 320.9,676.0 320.2,675.3 C319.4,674.5 321.1,671.9 319.3,670.8 C317.5,669.7 312.7,669.5 309.2,668.9 C305.7,668.3 300.4,668.3 298.3,667.1 C296.2,665.9 295.8,663.1 296.4,661.6 C297.0,660.1 300.4,658.3 301.9,658.0 C303.4,657.7 305.3,660.4 305.6,659.8 C305.9,659.2 305.2,656.1 303.7,654.3 C302.2,652.5 298.8,650.9 296.4,648.8 C294.0,646.7 291.2,643.9 289.1,641.5 C287.0,639.1 284.5,636.9 283.6,634.2 C282.7,631.5 281.8,626.3 283.6,625.1 Z" fill="#b3060b"/>
<path d="M366.2,618.1 C367.9,617.1 367.8,618.6 370.2,619.1 C372.6,619.6 376.9,620.2 380.3,621.2 C383.7,622.2 387.4,623.2 390.4,625.2 C393.4,627.2 396.5,631.3 398.5,633.3 C400.5,635.3 401.3,635.4 402.5,637.3 C403.7,639.1 405.5,642.0 405.5,644.4 C405.5,646.8 404.0,648.5 402.5,651.4 C401.0,654.2 398.1,658.5 396.4,661.5 C394.7,664.5 394.1,667.4 392.4,669.6 C390.7,671.8 388.3,673.7 386.3,674.7 C384.3,675.7 382.7,676.1 380.3,675.7 C377.9,675.4 374.6,672.4 372.2,672.6 C369.8,672.8 368.5,676.0 366.2,676.7 C363.9,677.4 359.0,677.9 358.1,676.7 C357.2,675.5 360.4,672.1 361.1,669.6 C361.8,667.1 362.3,664.9 362.1,661.5 C361.9,658.1 360.8,653.8 360.1,649.4 C359.4,645.0 358.1,639.3 358.1,635.3 C358.1,631.3 358.8,628.1 360.1,625.2 C361.5,622.3 364.5,619.1 366.2,618.1 Z" fill="#ea6040"/>
<path d="M426.7,637.3 C427.6,634.3 429.8,631.4 432.8,629.2 C435.8,627.0 440.5,624.5 444.9,624.2 C449.3,623.9 454.6,625.4 459.0,627.2 C463.4,629.1 467.5,631.9 471.2,635.3 C474.9,638.7 479.6,643.4 481.3,647.4 C483.0,651.4 482.7,655.8 481.3,659.5 C479.9,663.2 476.9,667.8 473.2,669.6 C469.5,671.5 463.7,670.9 459.0,670.6 C454.3,670.3 448.9,669.5 444.9,667.6 C440.9,665.8 437.7,662.9 434.8,659.5 C431.9,656.1 429.1,651.1 427.7,647.4 C426.3,643.7 425.8,640.3 426.7,637.3 Z" fill="#b3060b"/>
<path d="M517.6,618.1 C516.9,618.6 516.8,622.7 515.6,624.2 C514.4,625.7 511.2,625.7 510.5,627.2 C509.8,628.7 510.3,631.4 511.5,633.3 C512.7,635.1 516.2,636.3 517.6,638.3 C519.0,640.3 519.1,642.9 519.6,645.4 C520.1,647.9 519.9,651.1 520.6,653.5 C521.3,655.9 524.2,657.8 523.7,659.5 C523.2,661.2 518.0,662.2 517.6,663.6 C517.2,665.0 521.6,666.3 521.6,667.6 C521.6,668.9 517.6,669.9 517.6,671.6 C517.6,673.3 519.2,677.0 521.6,677.7 C524.0,678.4 529.3,677.1 531.7,675.7 C534.1,674.4 535.1,672.0 535.8,669.6 C536.5,667.2 535.5,663.9 535.8,661.5 C536.1,659.1 537.1,658.9 537.8,655.5 C538.5,652.1 539.8,645.1 539.8,641.4 C539.8,637.7 539.8,635.3 537.8,633.3 C535.8,631.3 530.1,630.6 527.7,629.2 C525.4,627.9 525.1,626.5 523.7,625.2 C522.4,623.9 520.6,622.4 519.6,621.2 C518.6,620.0 518.3,617.6 517.6,618.1 Z" fill="#ea6040"/>
</g>
<g fill="#8a8a8a" font-family="Liberation Sans, sans-serif" font-size="7.6">
<text x="627.3" y="658" font-size="5.5" fill="#777">N</text>
<text x="656" y="663.5">0</text>
<text x="696" y="663.5" textLength="13" lengthAdjust="spacingAndGlyphs">100</text>
<text x="739" y="663.5" textLength="31" lengthAdjust="spacingAndGlyphs">200 km</text>
</g>
<g font-family="Liberation Sans, sans-serif" font-size="24" font-weight="700" fill="#0b0b0b">
<text x="177.6" y="70" textLength="584.5" lengthAdjust="spacingAndGlyphs">IMPACT DES CHANGEMENTS À HORIZON 2025</text>
<text x="177.6" y="102" textLength="253.5" lengthAdjust="spacingAndGlyphs">PAR DEPARTEMENT</text>
</g>
<rect x="725.6" y="236" width="19.4" height="10.6" fill="none" stroke="#505050" stroke-width="1.2"/>
<rect x="726" y="294.2" width="20" height="11" fill="#c0000e"/>
<rect x="726" y="318" width="20" height="11" fill="#e55c3c"/>
<rect x="726" y="342.6" width="20" height="11" fill="#f8b07a"/>
<rect x="726" y="367.2" width="20" height="11" fill="#fce3bd"/>
<g font-family="Liberation Sans, sans-serif" font-size="11.8" fill="#42424a">
<text x="750.6" y="245.6" textLength="107" lengthAdjust="spacingAndGlyphs">Limites régionales</text>
<text x="724" y="280" textLength="99.8" lengthAdjust="spacingAndGlyphs" font-weight="700" fill="#111">Niveau d'impact</text>
<text x="750.2" y="304" textLength="40.4" lengthAdjust="spacingAndGlyphs">Majeur</text>
<text x="750.2" y="327.9" textLength="23.8" lengthAdjust="spacingAndGlyphs">Fort</text>
<text x="750.2" y="352.2" textLength="45" lengthAdjust="spacingAndGlyphs">Modéré</text>
<text x="750.2" y="377" textLength="49" lengthAdjust="spacingAndGlyphs">Moindre</text>
</g>
<g font-family="Liberation Sans, sans-serif" font-size="11.9" fill="#44444a">
<text x="192.4" y="699.5" textLength="72.8" lengthAdjust="spacingAndGlyphs">Guadeloupe</text>
<text x="275.9" y="699.5" textLength="65" lengthAdjust="spacingAndGlyphs">Martinique</text>
<text x="356.2" y="699.5" textLength="45.5" lengthAdjust="spacingAndGlyphs">Guyane</text>
<text x="422.2" y="699.5" textLength="67" lengthAdjust="spacingAndGlyphs">La Réunion</text>
<text x="505.9" y="699.5" textLength="48" lengthAdjust="spacingAndGlyphs">Mayotte</text>
</g>
<path d="M629.8,660.5 L627,677 L629.8,672.5 L632.8,677 Z" fill="#bbb"/>
<path d="M629.8,660.5 L627,677 L629.8,672.5 Z" fill="#666"/>
<rect x="658.5" y="672" width="89" height="1.8" fill="#6a6a6a"/>
</svg>

</body></html>
